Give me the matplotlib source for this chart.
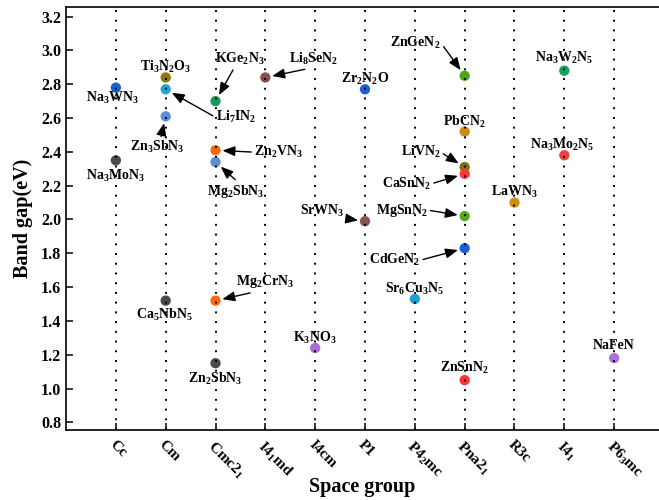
import numpy as np
import matplotlib
matplotlib.use('Agg')
import matplotlib.pyplot as plt

plt.rcParams['font.family'] = ['Liberation Serif', 'DejaVu Serif']
plt.rcParams['font.weight'] = 'bold'
plt.rcParams['mathtext.default'] = 'regular'

groups = ['Cc', 'Cm', 'Cmc2$_1$', 'I4$_1$md', 'I4cm', 'P1', 'P4$_2$mc',
          'Pna2$_1$', 'R3c', 'I4$_1$', 'P6$_3$mc']

names = ['Na$_3$WN$_3$', 'Na$_3$MoN$_3$', 'Ti$_3$N$_2$O$_3$', 'Li$_7$IN$_2$',
         'Zn$_3$SbN$_3$', 'Ca$_5$NbN$_5$', 'KGe$_2$N$_3$', 'Zn$_2$VN$_3$',
         'Mg$_2$SbN$_3$', 'Mg$_2$CrN$_3$', 'Zn$_2$SbN$_3$', 'Li$_8$SeN$_2$',
         'K$_3$NO$_3$', 'Zr$_2$N$_2$O', 'SrWN$_3$', 'Sr$_6$Cu$_3$N$_5$',
         'ZnGeN$_2$', 'PbCN$_2$', 'LiVN$_2$', 'CaSnN$_2$', 'MgSnN$_2$',
         'CdGeN$_2$', 'ZnSnN$_2$', 'LaWN$_3$', 'Na$_3$W$_2$N$_5$',
         'Na$_3$Mo$_2$N$_5$', 'NaFeN']
group_idx = [0, 0, 1, 1, 1, 1, 2, 2, 2, 2, 2, 3, 4, 5, 5, 6,
             7, 7, 7, 7, 7, 7, 7, 8, 9, 9, 10]
gaps = [2.78, 2.35, 2.84, 2.77, 2.61, 1.52, 2.70, 2.41, 2.34, 1.52, 1.15,
        2.84, 1.24, 2.77, 1.99, 1.53, 2.85, 2.52, 2.31, 2.27, 2.02, 1.83,
        1.05, 2.10, 2.88, 2.38, 1.18]

colors = ['#1565cc', '#4a4a4a', '#8c7a10', '#1ea5d2', '#5b8fd2', '#4a4a4a',
          '#18995a', '#fb6a0c', '#5b8fd2', '#fb6a0c', '#4a4a4a', '#8b4c4c',
          '#b06ad8', '#1a62d2', '#8b5252', '#1aa2d0', '#4aa81a', '#d08c10',
          '#7a7410', '#f83a3a', '#50aa1a', '#1562d8', '#f83636', '#d0900c',
          '#10a060', '#f04040', '#b070d8']

# label offsets in pixels, plus arrow start (relpos) for arrowed labels
offsets = [(-3, -10), (0, -16), (0, 11), (70, -28), (-8, -31), (-1, -14),
           (24, 42), (63, -2), (20, -29), (50, 19), (0, -16), (48, 19),
           (0, 10), (0, 10), (-43, 10), (0, 10), (-49, 33), (0, 10),
           (-44, 15), (-58, -10), (-63, 6), (-70, -12), (0, 12), (0, 11),
           (0, 13), (-2, 10), (0, 13)]
arrow_rel = {3: (0, 0.5), 4: (0.55, 1), 6: (0.4, 0), 7: (0, 0.5),
             8: (0.55, 1), 9: (0.45, 0), 11: (0.6, 0), 14: (0.6, 0.2),
             16: (1, 0.5), 18: (1, 0.5), 19: (1, 0.5), 20: (1, 0.5),
             21: (1, 0.5)}

fig = plt.figure(figsize=(6.59, 5.0), dpi=100)
ax = fig.add_axes([0.1002, 0.14, 0.8998, 0.8454])

xs = np.array(group_idx) + 1
ax.scatter(xs, gaps, s=55, c=colors, zorder=2, linewidths=0)

for i in range(len(groups)):
    ax.axvline(i + 1, color='black', lw=1.4, ls=(0, (1, 4)), zorder=3)

for i, name in enumerate(names):
    kw = dict(textcoords='offset pixels', xytext=offsets[i], ha='center',
              va='center', fontsize=10, fontweight='bold', zorder=4)
    if i in arrow_rel:
        kw['arrowprops'] = dict(arrowstyle='-|>,head_length=0.75,head_width=0.3',
                                color='black', lw=1.0, shrinkA=0, shrinkB=5,
                                relpos=arrow_rel[i])
    ax.annotate(name, (xs[i], gaps[i]), **kw)

ax.set_xlim(0, 11.9)
ax.set_ylim(0.755, 3.255)
ax.set_yticks(np.arange(0.8, 3.21, 0.2))
ax.set_yticklabels([f'{v:.1f}' for v in np.arange(0.8, 3.21, 0.2)])
ax.set_xticks(np.arange(1, len(groups) + 1))
ax.set_xticklabels(groups, rotation=-45, ha='left', va='top',
                   rotation_mode='anchor')
ax.tick_params(direction='in', length=5, width=1.1, labelsize=11.5)
ax.tick_params(axis='x', pad=6, labelsize=11)
for lab in ax.get_xticklabels() + ax.get_yticklabels():
    lab.set_fontweight('bold')

for s in ['left', 'bottom', 'top']:
    ax.spines[s].set_linewidth(1.2)
ax.spines['right'].set_visible(False)

ax.set_xlabel('Space group', fontsize=14.5, fontweight='bold')
ax.xaxis.set_label_coords(0.5, -0.112)
ax.set_ylabel('Band gap(eV)', fontsize=14.5, fontweight='bold', labelpad=6)

fig.savefig('out.png', dpi=100)
